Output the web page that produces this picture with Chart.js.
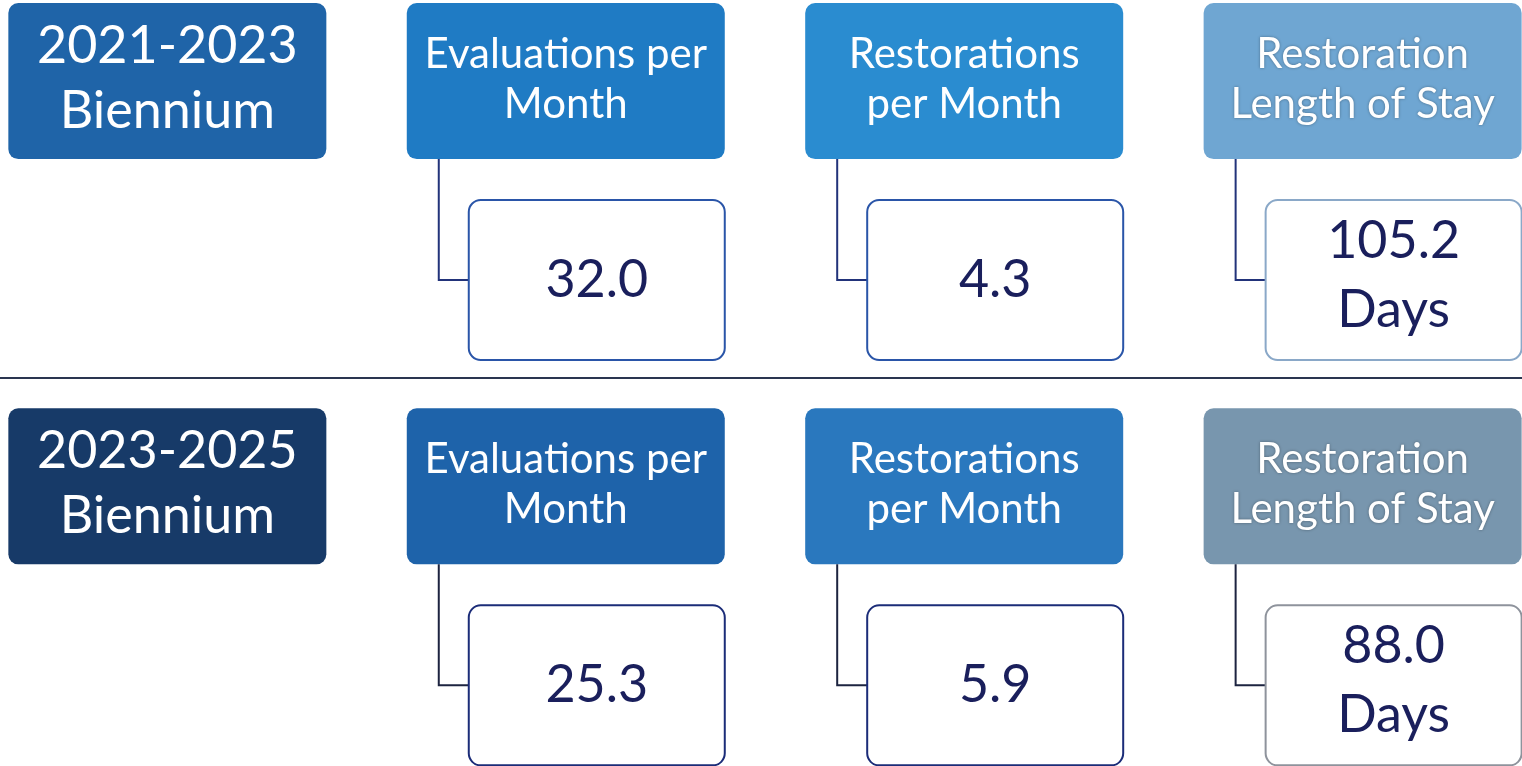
<!DOCTYPE html>
<html>
<head>
<meta charset="utf-8">
<script src="https://cdn.jsdelivr.net/npm/chart.js@4"></script>
<style>
  html, body { margin: 0; padding: 0; background: #fff; }
  #wrap { width: 1522px; height: 766px; }
</style>
</head>
<body>
<div id="wrap"><canvas id="tiles"></canvas></div>
<script>
// data
const periods = ['2021-2023', '2023-2025'];
const periodSuffix = 'Biennium';
const metrics = [['Evaluations per', 'Month'], ['Restorations', 'per Month'], ['Restoration', 'Length of Stay']];
const values2021 = [32.0, 4.3, 105.2];
const values2023 = [25.3, 5.9, 88.0];
const units = ['', '', 'Days'];

// colours per row: period tile, then one per metric
const headerColors = [
  ['#1f64a8', '#1f7bc4', '#2a8cd0', '#6fa6d2'],
  ['#173a68', '#1e63aa', '#2a78be', '#7896ae']
];
const borderColors = [
  ['#2a55a8', '#2a55a8', '#8aa8c8'],
  ['#1b2c78', '#1b2c78', '#8e939c']
];
const lineColors = ['#22337a', '#1d2440'];
const FONT = 'Lato, "Open Sans", sans-serif';

function rowPoints(values, r) {
  return [{ x: 0, y: r }].concat(values.map((v, i) => ({ x: i + 1, y: r, v })));
}

const tilePlugin = {
  id: 'tiles',
  afterDatasetsDraw(chart) {
    const ctx = chart.ctx;
    const area = chart.chartArea;
    ctx.save();

    // divider between the two biennia
    const sepY = chart.scales.y.getPixelForValue(0) + 297;
    ctx.strokeStyle = '#2a3550';
    ctx.lineWidth = 2;
    ctx.beginPath();
    ctx.moveTo(area.left, sepY);
    ctx.lineTo(area.right, sepY);
    ctx.stroke();

    chart.data.datasets.forEach((ds, r) => {
      const meta = chart.getDatasetMeta(r);
      meta.data.forEach((pt, c) => {
        const cx = pt.x, cy = pt.y;
        const left = cx - 159;

        // header tile
        ctx.fillStyle = headerColors[r][c];
        ctx.beginPath();
        ctx.roundRect(left, cy - 78, 318, 156, 10);
        ctx.fill();

        ctx.fillStyle = '#ffffff';
        ctx.textAlign = 'center';
        ctx.textBaseline = 'alphabetic';
        if (c === 0) {
          ctx.font = '52px ' + FONT;
          ctx.fillText(periods[r], cx, cy - 18);
          ctx.fillText(periodSuffix, cx, cy + 47);
          return;
        }
        if (c === 3) {
          ctx.shadowColor = 'rgba(0,0,0,0.35)';
          ctx.shadowBlur = 3;
        }
        ctx.font = '42px ' + FONT;
        ctx.fillText(metrics[c - 1][0], cx, cy - 13);
        ctx.fillText(metrics[c - 1][1], cx, cy + 37);
        ctx.shadowColor = 'transparent';
        ctx.shadowBlur = 0;

        // connector
        const boxLeft = left + 62;
        const boxMid = cy + 199;
        ctx.strokeStyle = lineColors[r];
        ctx.lineWidth = 2;
        ctx.beginPath();
        ctx.moveTo(left + 32, cy + 78);
        ctx.lineTo(left + 32, boxMid);
        ctx.lineTo(boxLeft, boxMid);
        ctx.stroke();

        // value box
        ctx.fillStyle = '#ffffff';
        ctx.strokeStyle = borderColors[r][c - 1];
        ctx.beginPath();
        ctx.roundRect(boxLeft, cy + 119, 256, 160, 12);
        ctx.fill();
        ctx.stroke();

        ctx.fillStyle = '#1a1f5c';
        ctx.font = '52px ' + FONT;
        const boxCx = boxLeft + 128;
        const txt = ds.data[c].v.toFixed(1);
        const unit = units[c - 1];
        if (unit) {
          ctx.fillText(txt, boxCx, cy + 177);
          ctx.fillText(unit, boxCx, cy + 246);
        } else {
          ctx.fillText(txt, boxCx, cy + 216);
        }
      });
    });
    ctx.restore();
  }
};

new Chart(document.getElementById('tiles'), {
  type: 'scatter',
  data: {
    datasets: [
      { label: periods[0] + ' ' + periodSuffix, data: rowPoints(values2021, 0), pointRadius: 0 },
      { label: periods[1] + ' ' + periodSuffix, data: rowPoints(values2023, 1), pointRadius: 0 }
    ]
  },
  options: {
    responsive: true,
    maintainAspectRatio: false,
    animation: false,
    events: [],
    layout: { padding: 0 },
    plugins: { legend: { display: false }, tooltip: { enabled: false } },
    scales: {
      x: { type: 'linear', display: false, min: -0.42, max: 3.40 },
      y: { type: 'linear', display: false, reverse: true, min: -0.2, max: 1.69 }
    }
  },
  plugins: [tilePlugin]
});
</script>
</body>
</html>
